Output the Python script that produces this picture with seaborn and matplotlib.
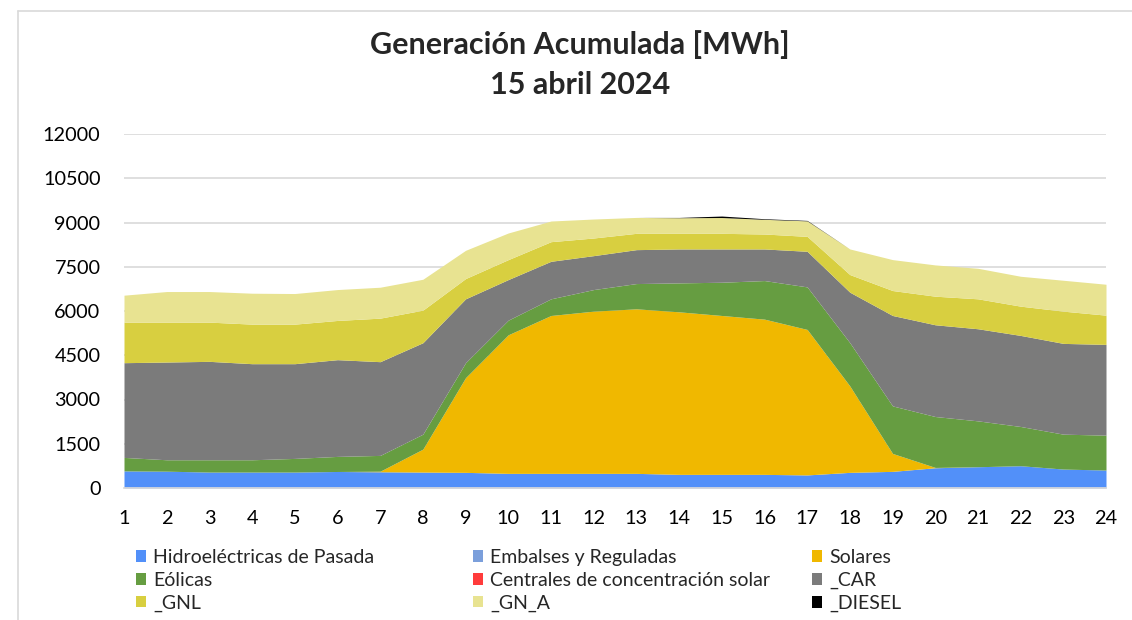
import numpy as np
import pandas as pd
import matplotlib
matplotlib.use("Agg")
import matplotlib.pyplot as plt
import seaborn as sns
from matplotlib.lines import Line2D
from matplotlib.patches import Patch

sns.set_theme(style="white")
plt.rcParams['font.family'] = ['Lato', 'DejaVu Sans']

# datos por hora [MWh]
horas = list(range(1, 25))
hidro_pasada = [580, 570, 540, 540, 540, 560, 550, 540, 530, 496, 496, 496,
                496, 462, 462, 462, 443, 530, 564, 687, 721, 755, 642, 609]
embalses = [0] * 24
solares = [0, 0, 0, 0, 0, 0, 20, 778, 3211, 4698, 5352, 5499,
           5578, 5510, 5386, 5262, 4932, 2929, 608, 10, 0, 0, 0, 0]
eolicas = [457, 387, 417, 417, 463, 511, 535, 507, 507, 496, 565, 732,
           856, 981, 1127, 1308, 1442, 1466, 1611, 1726, 1555, 1330, 1183, 1183]
csp = [0] * 24
car = [3211, 3313, 3336, 3257, 3211, 3279, 3177, 3100, 2165, 1376, 1272, 1150,
       1150, 1150, 1128, 1071, 1207, 1712, 3065, 3110, 3122, 3087, 3077, 3076]
gnl = [1375, 1353, 1330, 1341, 1341, 1330, 1476, 1104, 687, 676, 665, 598,
       553, 530, 530, 507, 506, 598, 846, 969, 1015, 992, 1093, 991]
gn_a = [913, 1037, 1037, 1048, 1037, 1047, 1048, 1047, 957, 903, 700, 643,
        539, 529, 536, 498, 526, 868, 1048, 1060, 1035, 1013, 1047, 1048]
diesel = [0, 0, 0, 0, 0, 0, 0, 0, 0, 0, 0, 0,
          0, 10, 50, 20, 15, 0, 0, 0, 0, 0, 0, 0]

nombres = ['Hidroeléctricas de Pasada', 'Embalses y Reguladas', 'Solares',
           'Eólicas', 'Centrales de concentración solar', '_CAR',
           '_GNL', '_GN_A', '_DIESEL']
colores = ['#5290F9', '#7B9FDB', '#F0B800', '#669D41', '#FF3B3B',
           '#7B7B7B', '#D8CF40', '#E8E391', '#000000']

df = pd.DataFrame(dict(zip(nombres, [hidro_pasada, embalses, solares, eolicas,
                                     csp, car, gnl, gn_a, diesel])), index=horas)

W, H = 1132, 620
fig = plt.figure(figsize=(W / 100, H / 100), dpi=100)
ax = fig.add_axes([124 / W, 1 - 488 / H, (1106 - 124) / W, (488 - 134) / H])

ax.stackplot(df.index, [df[c].values for c in nombres], colors=colores,
             linewidth=0)

ax.set_xlim(1, 24)
ax.set_ylim(0, 12000)
ax.set_xticks(horas)
ax.set_yticks(np.arange(0, 12001, 1500))
ax.tick_params(axis='both', labelsize=14.3, colors='#000000', length=0)
ax.tick_params(axis='x', pad=16)
ax.tick_params(axis='y', pad=17)
ax.yaxis.grid(True, color='#D9D9D9', linewidth=1.2)
ax.set_axisbelow(True)
for s in ['top', 'right', 'left']:
    ax.spines[s].set_visible(False)
ax.spines['bottom'].set_color('#D9D9D9')

# titulo
fig.text(580 / W, 1 - 45 / H, 'Generación Acumulada [MWh]', ha='center',
         va='center', fontsize=22, fontweight='bold')
fig.text(580 / W, 1 - 85 / H, '15 abril 2024', ha='center', va='center',
         fontsize=22, fontweight='bold')

# leyenda en tres columnas fijas, como en Excel
columnas = [[0, 3, 6], [1, 4, 7], [2, 5, 8]]
x_col = [136, 473, 812]
for col, x0 in zip(columnas, x_col):
    leg = fig.legend([Patch(facecolor=colores[i], edgecolor='none') for i in col],
                     [nombres[i] for i in col], loc='upper left',
                     bbox_to_anchor=(x0 / W, 1 - 549 / H), frameon=False,
                     fontsize=14, handlelength=0.52, handleheight=0.52,
                     handletextpad=0.36, labelspacing=0.3,
                     borderpad=0, borderaxespad=0)

# marco del gráfico
fig.add_artist(Line2D([18 / W, 1], [1 - 11 / H] * 2, color='#D9D9D9', lw=1.2))
fig.add_artist(Line2D([18 / W] * 2, [0, 1 - 11 / H], color='#D9D9D9', lw=1.2))

fig.savefig('out.png', dpi=100, facecolor='white')
